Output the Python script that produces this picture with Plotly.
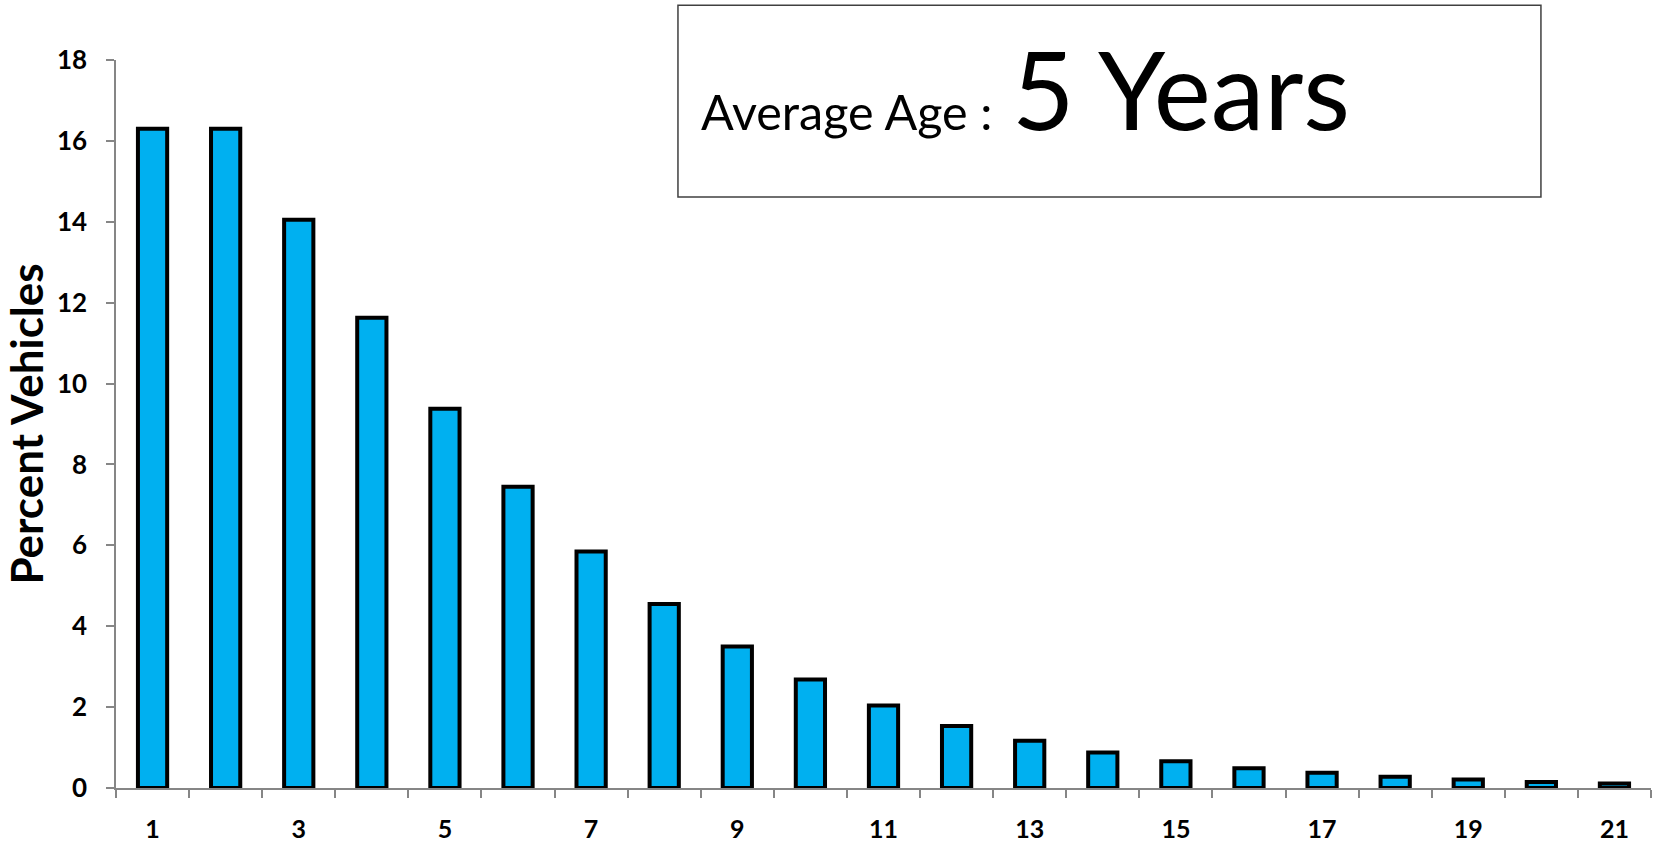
import plotly.graph_objects as go

# Vehicle age distribution
ages = list(range(1, 22))
percent_vehicles = [16.3, 16.3, 14.05, 11.63, 9.38, 7.45, 5.85, 4.55, 3.5, 2.68,
                    2.04, 1.53, 1.17, 0.88, 0.66, 0.49, 0.38, 0.28, 0.21, 0.15, 0.11]
label_ages = [1, 3, 5, 7, 9, 11, 13, 15, 17, 19, 21]
y_ticks = [0, 2, 4, 6, 8, 10, 12, 14, 16, 18]
average_age_label = "Average Age :"
average_age_value = "5 Years"

FONT = "Lato"
AXIS_GREY = "#868686"

fig = go.Figure()
fig.add_trace(go.Bar(
    x=ages,
    y=percent_vehicles,
    width=0.4,
    marker=dict(color="#00B0F0", line=dict(color="black", width=4)),
    showlegend=False,
    hoverinfo="x+y",
))
# invisible companion trace so the labelled category axis is drawn
fig.add_trace(go.Scatter(x=[ages[0], ages[-1]], y=[0, 0], xaxis="x2",
                         mode="markers", marker=dict(opacity=0),
                         showlegend=False, hoverinfo="skip"))

fig.update_layout(
    width=1661, height=845,
    margin=dict(l=116, r=10, t=60, b=57, autoexpand=False),
    paper_bgcolor="white", plot_bgcolor="white",
    font=dict(family=FONT, color="black"),
    xaxis=dict(
        range=[0.5, 21.5], automargin=False,
        tickmode="array",
        tickvals=[a - 0.5 for a in ages] + [ages[-1] + 0.5],
        showticklabels=False,
        ticks="outside", ticklen=8, tickwidth=1.5, tickcolor=AXIS_GREY,
        showline=True, linecolor=AXIS_GREY, linewidth=1.5,
        showgrid=False, zeroline=False,
    ),
    xaxis2=dict(
        overlaying="x", anchor="y", side="bottom",
        range=[0.5, 21.5], automargin=False,
        tickmode="array",
        tickvals=label_ages,
        ticktext=[str(a) for a in label_ages],
        ticks="", ticklabelstandoff=24,
        tickfont=dict(family=FONT, size=25, color="black", weight="bold"),
        showline=False, showgrid=False, zeroline=False,
    ),
    yaxis=dict(
        range=[0, 18], automargin=False,
        tickmode="array", tickvals=y_ticks,
        ticks="outside", ticklen=8, tickwidth=1.5, tickcolor=AXIS_GREY,
        ticklabelstandoff=14,
        tickfont=dict(family=FONT, size=26, color="black", weight="bold"),
        showline=True, linecolor=AXIS_GREY, linewidth=1.5,
        showgrid=False, zeroline=False,
        title=dict(text="Percent Vehicles", standoff=8,
                   font=dict(family=FONT, size=44, color="black", weight="bold")),
    ),
    shapes=[dict(
        type="rect", xref="paper", yref="paper",
        x0=0.3661, x1=0.9283, y0=0.8118, y1=1.0751,
        line=dict(color="#404040", width=1.5),
        fillcolor="white", layer="above",
    )],
    annotations=[dict(
        xref="paper", yref="paper",
        x=0.3798, y=0.962, xanchor="left", yanchor="middle",
        showarrow=False,
        text=(f'{average_age_label}<span style="font-size:77px"> </span>'
              f'<span style="font-size:108px">{average_age_value}</span>'),
        font=dict(family=FONT, size=48.5, color="black"),
    )],
)

fig.write_html("out.html")
